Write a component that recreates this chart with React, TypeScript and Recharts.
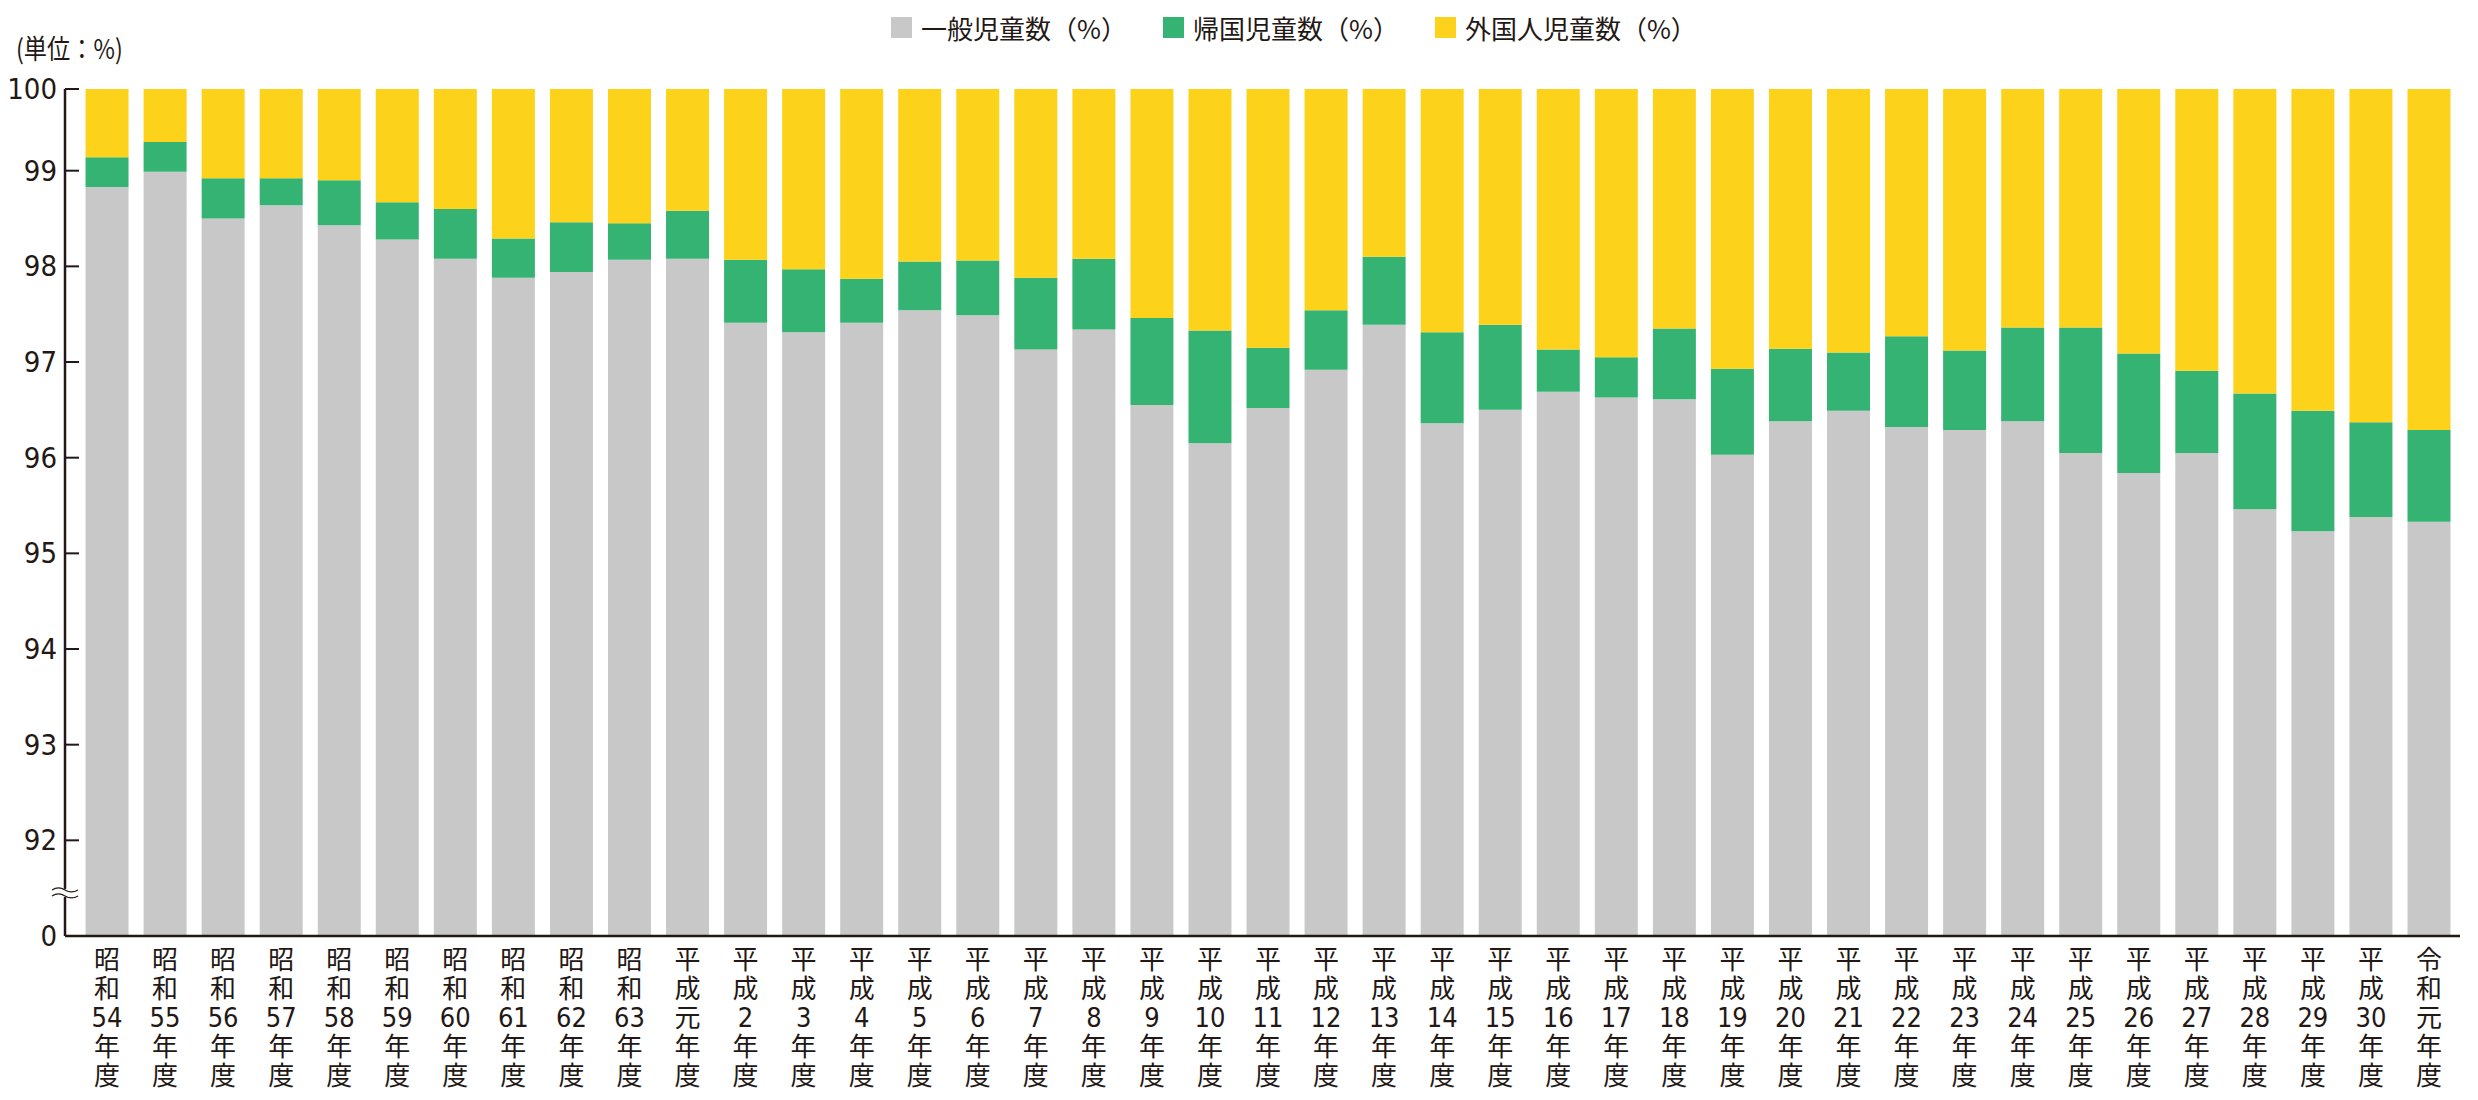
import { BarChart, Bar, XAxis, YAxis } from "recharts"

// 年度ラベル
const years = [
  "昭和54年度", "昭和55年度", "昭和56年度", "昭和57年度", "昭和58年度",
  "昭和59年度", "昭和60年度", "昭和61年度", "昭和62年度", "昭和63年度",
  "平成元年度", "平成2年度", "平成3年度", "平成4年度", "平成5年度",
  "平成6年度", "平成7年度", "平成8年度", "平成9年度", "平成10年度",
  "平成11年度", "平成12年度", "平成13年度", "平成14年度", "平成15年度",
  "平成16年度", "平成17年度", "平成18年度", "平成19年度", "平成20年度",
  "平成21年度", "平成22年度", "平成23年度", "平成24年度", "平成25年度",
  "平成26年度", "平成27年度", "平成28年度", "平成29年度", "平成30年度",
  "令和元年度",
]

// 一般児童数（%）
const general = [
  98.83, 98.99, 98.5, 98.64, 98.43, 98.28, 98.08, 97.88, 97.94, 98.07,
  98.08, 97.41, 97.31, 97.41, 97.54, 97.49, 97.13, 97.34, 96.55, 96.15,
  96.52, 96.92, 97.39, 96.36, 96.5, 96.69, 96.63, 96.61, 96.03, 96.38,
  96.49, 96.32, 96.29, 96.38, 96.05, 95.84, 96.05, 95.46, 95.23, 95.38,
  95.33,
]

// 帰国児童数（%）
const returnee = [
  0.31, 0.31, 0.42, 0.28, 0.47, 0.39, 0.52, 0.41, 0.52, 0.38,
  0.5, 0.66, 0.66, 0.46, 0.51, 0.57, 0.75, 0.74, 0.91, 1.18,
  0.63, 0.62, 0.71, 0.95, 0.89, 0.44, 0.42, 0.74, 0.9, 0.76,
  0.61, 0.95, 0.83, 0.98, 1.31, 1.25, 0.86, 1.21, 1.26, 0.99,
  0.96,
]

// 外国人児童数（%）
const foreign = [
  0.86, 0.7, 1.08, 1.08, 1.1, 1.33, 1.4, 1.71, 1.54, 1.55,
  1.42, 1.93, 2.03, 2.13, 1.95, 1.94, 2.12, 1.92, 2.54, 2.67,
  2.85, 2.46, 1.9, 2.69, 2.61, 2.87, 2.95, 2.65, 3.07, 2.86,
  2.9, 2.73, 2.88, 2.64, 2.64, 2.91, 3.09, 3.33, 3.51, 3.63,
  3.71,
]

const seriesNames = ["一般児童数（%）", "帰国児童数（%）", "外国人児童数（%）"]
const seriesColors = ["#c8c8c8", "#35b373", "#fcd21b"]

// 軸は 91 から始まる（0 との間を省略）
const AXIS_BASE = 91
const AXIS_TOP = 8.854 // 「100」の目盛り位置
const BREAK_AT = 0.45
const yTicks = [0, BREAK_AT, 1, 2, 3, 4, 5, 6, 7, 8, AXIS_TOP]

const INK = "#231815"
const NUM_FONT = "'Liberation Sans Narrow', 'Arial Narrow', 'DejaVu Sans Condensed', sans-serif"
const JP_FONT = "'Noto Sans CJK JP', 'Noto Sans', sans-serif"

const chartData = years.map((year, i) => ({
  year,
  general: general[i] - AXIS_BASE,
  returnee: returnee[i],
  foreign: foreign[i],
}))

function yLabel(v: number) {
  if (v === 0) return "0"
  if (v === AXIS_TOP) return "100"
  return String(AXIS_BASE + v)
}

function YTick({ x, y, payload }: any) {
  const v = payload.value
  const ax = x + 8
  if (v === BREAK_AT) {
    return (
      <g>
        <rect x={ax - 4} y={y - 4} width={8} height={8} fill="#fff" />
        <path d={`M ${ax - 13} ${y - 3} q 6.5 -4 13 0 t 13 0`} fill="none" stroke={INK} strokeWidth={1.3} />
        <path d={`M ${ax - 13} ${y + 3} q 6.5 -4 13 0 t 13 0`} fill="none" stroke={INK} strokeWidth={1.3} />
      </g>
    )
  }
  return (
    <g>
      <line x1={ax} x2={ax + 14} y1={y} y2={y} stroke={INK} strokeWidth={2} />
      <text x={x} y={y} textAnchor="end" dominantBaseline="central" fontSize={29} fontFamily={NUM_FONT} fill={INK}>
        {yLabel(v)}
      </text>
    </g>
  )
}

// 縦に1文字ずつ（数字はまとめて横書き）
function XTick({ x, y, payload }: any) {
  const m = String(payload.value).match(/^(.)(.)(.+?)(年)(度)$/)
  const lines = m ? m.slice(1) : [String(payload.value)]
  return (
    <g fill={INK}>
      {lines.map((t, i) => {
        const cy = y + 23.5 + 28.8 * i
        if (/\d/.test(t)) {
          return (
            <text key={i} x={x} y={cy} textAnchor="middle" dominantBaseline="central" fontSize={27} fontFamily={NUM_FONT}>
              {t}
            </text>
          )
        }
        return (
          <text key={i} x={x} y={cy} textAnchor="middle" writingMode="vertical-rl" fontSize={26} fontFamily={JP_FONT}>
            {t}
          </text>
        )
      })}
    </g>
  )
}

function ChartLegend() {
  return (
    <div style={{ position: "absolute", left: 891, top: 9, display: "flex", alignItems: "center", fontFamily: JP_FONT, fontSize: 26, color: INK }}>
      {seriesNames.map((name, i) => (
        <div key={name} style={{ display: "flex", alignItems: "center", marginRight: 36 }}>
          <span style={{ display: "inline-block", width: 21, height: 21, background: seriesColors[i], marginRight: 9 }} />
          <span>{name}</span>
        </div>
      ))}
    </div>
  )
}

export default function App() {
  return (
    <div style={{ position: "absolute", left: 0, top: 0, width: 2478, height: 1100, background: "#fff" }}>
      <div
        style={{
          position: "absolute",
          left: 16,
          top: 28,
          fontFamily: JP_FONT,
          fontSize: 27,
          color: INK,
          transform: "scaleX(0.86)",
          transformOrigin: "left center",
        }}
      >
        (単位：%)
      </div>
      <ChartLegend />
      <BarChart
        width={2478}
        height={1100}
        data={chartData}
        margin={{ top: 89, right: 18, bottom: 4, left: 0 }}
        barCategoryGap="13%"
      >
        <XAxis
          dataKey="year"
          interval={0}
          height={160}
          tickLine={false}
          tickSize={0}
          tickMargin={0}
          padding={{ left: 13, right: 2 }}
          axisLine={{ stroke: INK, strokeWidth: 2.5 }}
          tick={<XTick />}
        />
        <YAxis
          type="number"
          width={65}
          domain={[0, AXIS_TOP]}
          allowDataOverflow
          ticks={yTicks}
          interval={0}
          tickLine={false}
          tickSize={8}
          tickMargin={0}
          axisLine={{ stroke: INK, strokeWidth: 2.5 }}
          tick={<YTick />}
        />
        <Bar dataKey="general" stackId="a" fill={seriesColors[0]} isAnimationActive={false} name={seriesNames[0]} />
        <Bar dataKey="returnee" stackId="a" fill={seriesColors[1]} isAnimationActive={false} name={seriesNames[1]} />
        <Bar dataKey="foreign" stackId="a" fill={seriesColors[2]} isAnimationActive={false} name={seriesNames[2]} />
      </BarChart>
    </div>
  )
}
